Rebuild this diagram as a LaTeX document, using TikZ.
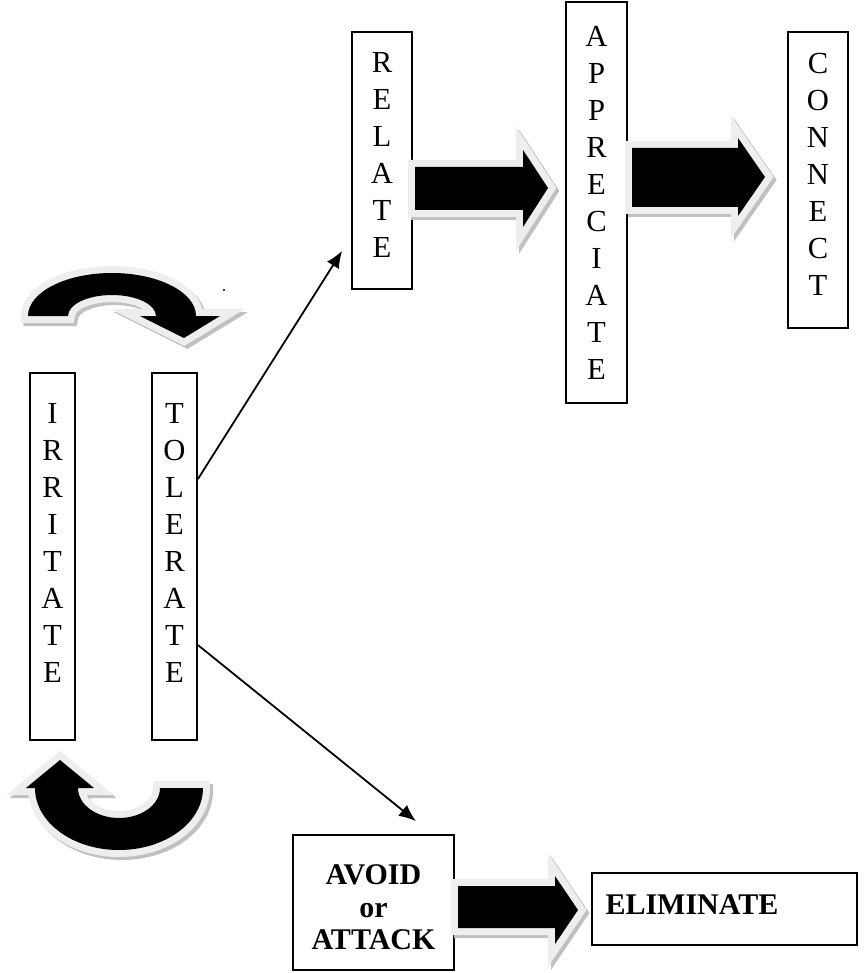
\documentclass[tikz,border=0pt]{standalone}
\usepackage{fontspec}
\setmainfont{Liberation Serif}
\usetikzlibrary{arrows.meta, positioning, calc}
\definecolor{rimgray}{RGB}{238,238,238}
\definecolor{shadegray}{RGB}{192,192,192}
\tikzset{
  letterbox/.style={rectangle, draw=black, fill=white, line width=0.9pt,
    align=center, inner sep=0pt, font=\fontsize{15.3}{18.5}\selectfont},
  wordbox/.style={rectangle, draw=black, fill=white, line width=0.9pt,
    align=center, inner sep=0pt, font=\fontsize{15}{16.25}\selectfont\bfseries},
  fatarrow/.style={fill=black, line join=miter,
    preaction={fill=shadegray, draw=shadegray, line width=7pt,
      transform canvas={shift={(1.5pt,-1.5pt)}}},
    preaction={fill=rimgray, draw=rimgray, line width=7pt}},
  arrow/.style={-{Latex[length=8.5pt, width=7pt]}, line width=0.9pt}
}

\begin{document}
\begin{tikzpicture}[x=0.5pt, y=-0.5pt]
  \useasboundingbox (0,0) rectangle (866,973);

  % Left pair of columns
  \node[letterbox, minimum width=22.5pt, minimum height=183.5pt, text depth=14pt] (irritate) at (52.5,556.5) {I\\R\\R\\I\\T\\A\\T\\E};
  \node[letterbox, minimum width=22.5pt, minimum height=183.5pt, text depth=14pt] (tolerate) at (174.5,556.5) {T\\O\\L\\E\\R\\A\\T\\E};

  % Upper path
  \node[letterbox, minimum width=30pt, minimum height=128.5pt, text depth=6pt] (relate) at (382,160.5) {R\\E\\L\\A\\T\\E};
  \node[letterbox, minimum width=30.5pt, minimum height=200.5pt] (appreciate) at (596.5,202.5) {A\\P\\P\\R\\E\\C\\I\\A\\T\\E};
  \node[letterbox, minimum width=30pt, minimum height=148pt, text depth=6pt] (connect) at (818,180) {C\\O\\N\\N\\E\\C\\T};

  % Lower path
  \node[wordbox, minimum width=80.5pt, minimum height=67.5pt, text height=47.5pt] (avoid) at (373.5,902.5) {AVOID\\or\\ATTACK};
  \node[wordbox, minimum width=132.5pt, minimum height=36pt, text width=119pt, align=left, inner xsep=6.75pt, text depth=4pt] (eliminate) at (724.5,909) {ELIMINATE};

  % Turning arrows round the columns
  \fill[fatarrow] (28,316) arc[start angle=180, end angle=360, x radius=84, y radius=43]
    -- (220,316) -- (184,338) -- (140,316) -- (156,316)
    arc[start angle=0, end angle=-180, x radius=44, y radius=21] -- cycle;
  \fill[fatarrow] (203,788) arc[start angle=0, end angle=180, x radius=84, y radius=62]
    -- (26,788) -- (60,760) -- (94,788) -- (78,788)
    arc[start angle=180, end angle=0, x radius=41, y radius=30] -- cycle;
  \fill (224,290) circle[radius=1.2];

  % Block arrows
  \fill[fatarrow] (415,167) -- (523,167) -- (523,150) -- (548,188) -- (523,227) -- (523,210) -- (415,210) -- cycle;
  \fill[fatarrow] (632,148) -- (738,148) -- (738,138) -- (765,177) -- (738,216) -- (738,207) -- (632,207) -- cycle;
  \fill[fatarrow] (458,886) -- (555,886) -- (555,876) -- (578,910) -- (555,944) -- (555,928) -- (458,928) -- cycle;

  % Links out of TOLERATE
  \draw[arrow] ($(tolerate.north east)!0.29!(tolerate.south east)$) -- ($(relate.south west)+(-9,-39)$);
  \draw[arrow] ($(tolerate.north east)!0.74!(tolerate.south east)$) -- ($(avoid.north east)+(-39,-13)$);
\end{tikzpicture}
\end{document}
